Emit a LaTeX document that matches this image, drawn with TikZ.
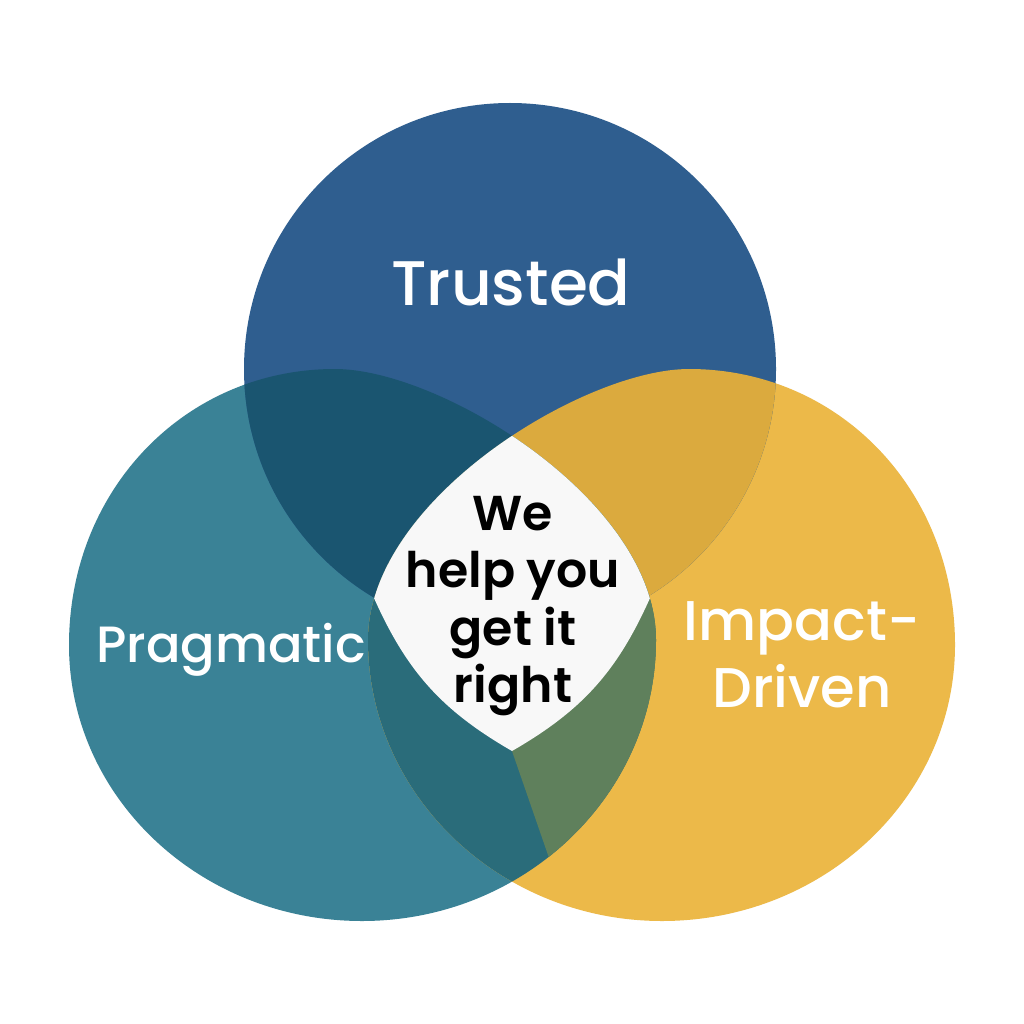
\documentclass[tikz,border=0pt]{standalone}
\usepackage{fontspec}
\setmainfont{Poppins}
\newfontfamily\medfont{Poppins Medium}
\newfontfamily\semifont{Poppins SemiBold}
\definecolor{cblue}{HTML}{2F5E8F}
\definecolor{cteal}{HTML}{3A8296}
\definecolor{cyellow}{HTML}{ECB949}
\definecolor{cnavy}{HTML}{1A5570}
\definecolor{cgold}{HTML}{DBAA3E}
\definecolor{cdteal}{HTML}{2A6C7A}
\definecolor{cgreen}{HTML}{5F805C}
\definecolor{cwhite}{HTML}{F8F8F8}
\newcommand{\Lshape}{(69,645) .. controls (69,490) and (185,369) .. (335,369) .. controls (440,369) and (656,500) .. (656,640) .. controls (656,795) and (524,921) .. (362,921) .. controls (200,921) and (69,797) .. (69,645) -- cycle}
\newcommand{\Rshape}{(955,645) .. controls (955,490) and (839,369) .. (689,369) .. controls (584,369) and (368,500) .. (368,640) .. controls (368,795) and (500,921) .. (662,921) .. controls (824,921) and (955,797) .. (955,645) -- cycle}
\newcommand{\Tshape}{(510,369) circle [radius=266pt]}
\tikzset{
  lbl/.style={text=white, inner sep=0pt, align=center},
  ctr/.style={text=black, font=\semifont\fontsize{49}{57.5}\selectfont, inner sep=0pt, align=center}
}
\begin{document}
\begin{tikzpicture}[x=1pt,y=-1pt]
\fill[white] (0,0) rectangle (1024,1024);
\useasboundingbox (0,0) rectangle (1024,1024);
\fill[cteal] \Lshape;
\fill[cyellow] \Rshape;
\fill[cblue] \Tshape;
\begin{scope}
  \clip \Tshape; \clip \Lshape;
  \fill[cnavy] (0,0) rectangle (1024,1024);
\end{scope}
\begin{scope}
  \clip \Tshape; \clip \Rshape;
  \fill[cgold] (0,0) rectangle (1024,1024);
\end{scope}
\begin{scope}
  \clip \Lshape; \clip \Rshape;
  \fill[cdteal] (0,0) rectangle (1024,1024);
  \fill[cgreen] (512,751) -- (548,855) -- (600,1003) -- (900,1003) -- (900,500) -- (512,500) -- cycle;
\end{scope}
\begin{scope}
  \clip \Lshape; \clip \Rshape;
  \fill[cwhite] (250,250) -- (250,540) -- (374,598) to[bend right=18] (512,751) to[bend right=18] (650,598) -- (774,540) -- (774,250) -- cycle;
\end{scope}
\node[lbl, font=\medfont\fontsize{63}{72}\selectfont] (trusted) at (511,282) {Trusted};
\node[lbl, font=\medfont\fontsize{51}{60}\selectfont] (prag) at (231,650) {Pragmatic};
\node[lbl, font=\medfont\fontsize{56}{67}\selectfont] (impact) at (802,655) {Impact-\\Driven};
\node[ctr] (center) at (513,606) {We\\help you\\get it\\right};
\end{tikzpicture}
\end{document}
